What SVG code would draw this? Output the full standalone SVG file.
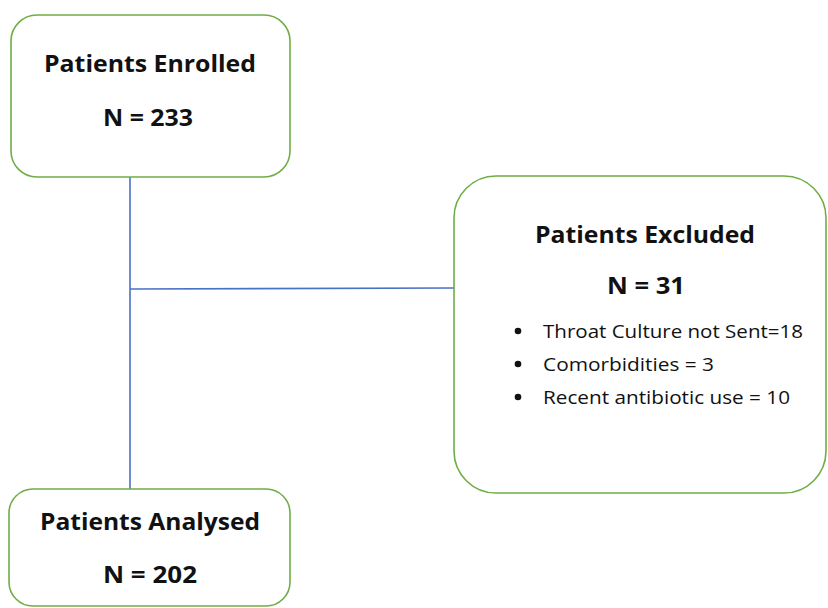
<svg xmlns="http://www.w3.org/2000/svg" width="828" height="608" viewBox="0 0 828 608">
  <style>
    .box { fill: #ffffff; stroke: #70ad47; stroke-width: 1.6; }
    .link { fill: none; stroke: #4a72c4; stroke-width: 1.6; }
    .title { font-family: "Open Sans", "Liberation Sans", sans-serif; font-weight: bold; font-size: 24px; fill: #111111; }
    .item { font-family: "Open Sans", "Liberation Sans", sans-serif; font-size: 19px; fill: #111111; }
  </style>
  <rect width="828" height="608" fill="#ffffff"/>

  <!-- connectors -->
  <g id="connectors">
    <line class="link" x1="130" y1="177" x2="130" y2="489"/>
    <line class="link" x1="130" y1="289" x2="454" y2="288"/>
  </g>

  <!-- enrolled -->
  <g id="enrolled">
    <rect class="box" x="11" y="15" width="279" height="162" rx="26" ry="26"/>
    <text class="title" x="44" y="72" textLength="212" lengthAdjust="spacingAndGlyphs">Patients Enrolled</text>
    <text class="title" x="103" y="126" textLength="90" lengthAdjust="spacingAndGlyphs">N = 233</text>
  </g>

  <!-- excluded -->
  <g id="excluded">
    <rect class="box" x="454" y="176" width="372" height="317" rx="42" ry="42"/>
    <text class="title" x="535" y="243" textLength="220" lengthAdjust="spacingAndGlyphs">Patients Excluded</text>
    <text class="title" x="607" y="294" textLength="78" lengthAdjust="spacingAndGlyphs">N = 31</text>
    <circle cx="518" cy="331" r="3.3" fill="#111111"/>
    <circle cx="518" cy="364" r="3.3" fill="#111111"/>
    <circle cx="518" cy="397" r="3.3" fill="#111111"/>
    <text class="item" x="543" y="338" textLength="260" lengthAdjust="spacingAndGlyphs">Throat Culture not Sent=18</text>
    <text class="item" x="543" y="371" textLength="171" lengthAdjust="spacingAndGlyphs">Comorbidities = 3</text>
    <text class="item" x="543" y="404" textLength="247" lengthAdjust="spacingAndGlyphs">Recent antibiotic use = 10</text>
  </g>

  <!-- analysed -->
  <g id="analysed">
    <rect class="box" x="9" y="489" width="281" height="117" rx="24" ry="24"/>
    <text class="title" x="40" y="530" textLength="220" lengthAdjust="spacingAndGlyphs">Patients Analysed</text>
    <text class="title" x="103" y="583" textLength="94" lengthAdjust="spacingAndGlyphs">N = 202</text>
  </g>
</svg>
